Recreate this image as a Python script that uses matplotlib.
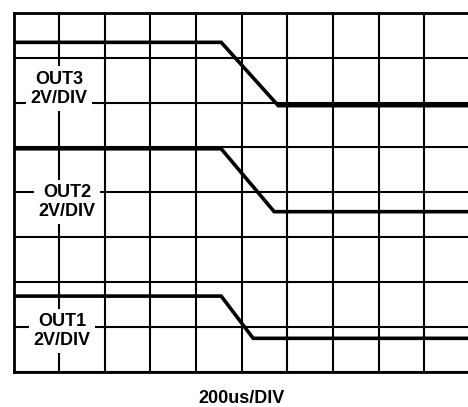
import matplotlib
matplotlib.use("Agg")
from matplotlib import pyplot as plt
import numpy as np

# scope capture: 200us/DIV horizontally, traces in screen divisions vertically
time_div_us = 200
n_xdiv, n_ydiv = 10, 8

channels = ["OUT3", "OUT2", "OUT1"]
scale_labels = ["2V/DIV", "2V/DIV", "2V/DIV"]

out3_t = [10, 910, 1160, 2000]
out3_y = [7.34, 7.34, 5.93, 5.93]
out2_t = [0, 910, 1142, 2000]
out2_y = [4.97, 4.97, 3.57, 3.57]
out1_t = [0, 910, 1050, 2000]
out1_y = [1.69, 1.69, 0.75, 0.75]

# label centres (us, div)
label_x = [200, 235, 212]
label_y = [6.31, 3.78, 0.91]

W, H, dpi = 468, 407, 100
fig = plt.figure(figsize=(W / dpi, H / dpi), dpi=dpi)
# grid runs from px 13.5 to 470 (right edge falls just outside the picture)
left, right, top, bottom = 13.5, 470.0, 12.7, 372.0
ax = fig.add_axes([left / W, 1 - bottom / H, (right - left) / W, (bottom - top) / H])

ax.set_xlim(0, n_xdiv * time_div_us)
ax.set_ylim(0, n_ydiv)
ax.set_xticks(np.arange(0, n_xdiv + 1) * time_div_us)
ax.set_yticks(np.arange(0, n_ydiv + 1))
ax.tick_params(length=0, labelbottom=False, labelleft=False)
ax.grid(True, color="black", linewidth=1.5, zorder=1)
ax.set_axisbelow(True)
for s in ax.spines.values():
    s.set_linewidth(2.0)

for t, y in [(out3_t, out3_y), (out2_t, out2_y), (out1_t, out1_y)]:
    ax.plot(t, y, color="black", linewidth=2.6, solid_joinstyle="miter", zorder=3)

for name, sc, x, y in zip(channels, scale_labels, label_x, label_y):
    ax.text(x, y, name + "\n" + sc, ha="center", va="center",
            family="Liberation Sans", fontweight="bold", fontsize=13,
            linespacing=1.15, zorder=4,
            bbox=dict(facecolor="white", edgecolor="none", pad=3))

fig.text(241.7 / W, 1 - 390 / H, f"{time_div_us}us/DIV", ha="center", va="top",
         family="Liberation Sans", fontweight="bold", fontsize=13)

fig.savefig("out.png", dpi=dpi)
